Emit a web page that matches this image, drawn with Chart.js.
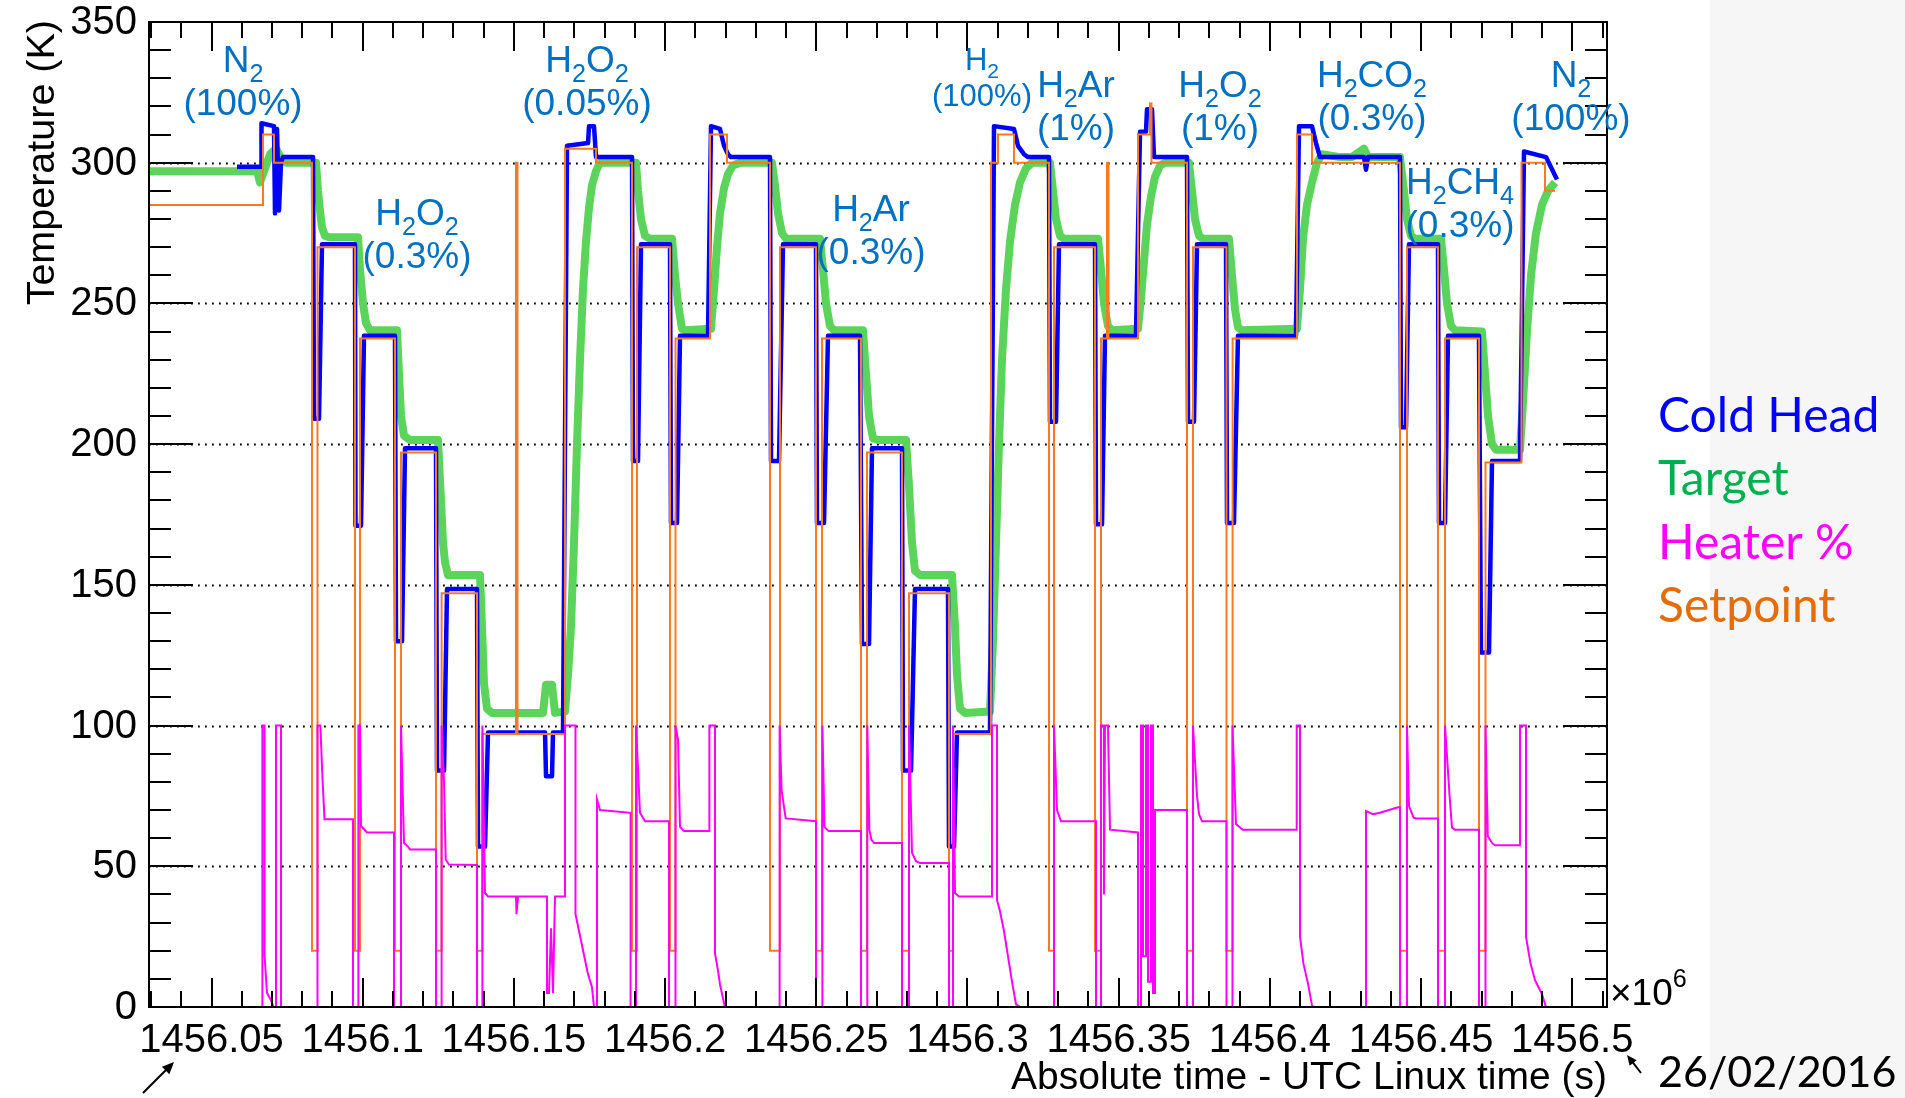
<!DOCTYPE html>
<html>
<head>
<meta charset="utf-8">
<title>Cold head / target temperature log</title>
<script src="https://cdn.jsdelivr.net/npm/chart.js@4.4.1/dist/chart.umd.min.js"></script>
<style>
  html, body { margin: 0; padding: 0; background: #ffffff; overflow: hidden; }
  canvas { display: block; }
</style>
</head>
<body>
<canvas id="c" width="1905" height="1098"></canvas>
<script>
// Time is stored in seconds after T0 (UTC Linux time); the axis shows (T0 + t) / 1e6.
const T0 = 1456000000;
const X_MIN = 29330, X_MAX = 511480;

const xTickValues = [50000, 100000, 150000, 200000, 250000, 300000, 350000, 400000, 450000, 500000];
const xTickLabels = ['1456.05', '1456.1', '1456.15', '1456.2', '1456.25', '1456.3', '1456.35', '1456.4', '1456.45', '1456.5'];
const xMinorStep = 10000;
const yTickValues = [0, 50, 100, 150, 200, 250, 300, 350];
const yTickLabels = ['0', '50', '100', '150', '200', '250', '300', '350'];
const yMinorStep = 10;
const yGridValues = [50, 100, 150, 200, 250, 300];

// Controller setpoint (K), step function: value holds until the next entry
const setpointK = [
  [29330, 285], [67030, 310], [70670, 300], [83230, 20], [85050, 270], [97450, 20], [99110, 237.5],
  [110680, 20], [112670, 197], [124240, 20], [126090, 147], [137800, 20], [139580, 97], [150700, 300],
  [151190, 97], [166900, 305], [177150, 300], [189060, 20], [190710, 270], [201620, 20], [203440, 237.5],
  [214850, 310], [220470, 300], [234690, 20], [238000, 270], [249900, 20], [251890, 237.5], [264780, 20],
  [266770, 197], [278340, 20], [280660, 147], [293880, 20], [295210, 97], [307770, 300], [310090, 310],
  [315380, 300], [326950, 20], [328610, 270], [342170, 20], [344150, 237.5], [346130, 300], [346630, 237.5],
  [356380, 310], [360350, 321], [360850, 300], [372590, 20], [374570, 270], [385650, 20], [387670, 237.5],
  [408960, 310], [413920, 300], [443030, 20], [445340, 270], [455590, 20], [457910, 237.5], [469150, 20],
  [471300, 193.5], [483200, 300], [490980, 290], [494280, 290]
];

// Cold head temperature (K)
const coldHeadK = [
  [58430, 298.6], [66370, 298.6], [66530, 314], [70670, 313], [71000, 282], [71660, 312], [72320, 283],
  [72980, 300], [73640, 302], [83570, 302], [83900, 209], [85550, 209], [86540, 271], [97450, 271],
  [97620, 171], [99440, 171], [100430, 238.5], [110680, 238.5], [111010, 130], [113000, 130], [113990, 198.5],
  [124240, 198.5], [124570, 84], [126890, 84], [127880, 148.5], [137800, 148.5], [138130, 57], [140440, 57],
  [141440, 97.5], [160290, 97.5], [160620, 82], [162600, 82], [162930, 97.5], [166240, 97.5], [167560, 306],
  [174510, 307], [174840, 313], [176490, 313], [177150, 302], [189060, 302], [189390, 194], [191040, 194],
  [192030, 271], [201620, 271], [201950, 172], [203940, 172], [204930, 238.5], [214190, 238.5], [215180, 313],
  [218160, 312], [219480, 306], [220800, 303], [221790, 302], [234690, 302], [235020, 194], [237670, 194],
  [238990, 271], [249900, 271], [250230, 172], [252550, 172], [253870, 238.5], [264450, 238.5], [265110, 129],
  [267430, 129], [268420, 198.5], [278340, 198.5], [278670, 84], [281320, 84], [282640, 148.5], [293550, 148.5],
  [293880, 57], [295540, 57], [296530, 97.5], [307440, 97.5], [308770, 313], [315380, 312], [316700, 306],
  [318690, 303], [320010, 302], [326950, 302], [327280, 208], [329270, 208], [330260, 271], [342170, 271],
  [342500, 171.5], [344480, 171.5], [345470, 238.5], [355720, 238.5], [357050, 311], [359030, 311], [359360, 319],
  [361010, 319], [361680, 302], [372590, 302], [372920, 208], [374900, 208], [375900, 271], [385490, 271],
  [385820, 172], [388130, 172], [389450, 238.5], [408630, 238.5], [409630, 313], [413920, 313], [415250, 307],
  [416570, 302], [431120, 302], [431780, 297.5], [432440, 302], [443030, 302], [443360, 206], [445010, 206],
  [446000, 271], [455590, 271], [455920, 172], [457910, 172], [458900, 238.5], [469150, 238.5], [469810, 126],
  [472460, 126], [473450, 194], [482710, 194], [484030, 304], [491310, 302], [494940, 294]
];

// Target temperature (K)
const targetK = [
  [29330, 297], [65050, 297], [66040, 293], [67690, 298], [69350, 303], [71330, 305], [73310, 301], [74640, 300],
  [84560, 300], [85220, 290], [85880, 283], [86540, 277], [87530, 274], [89190, 273.5], [98450, 273.5],
  [99110, 262], [100100, 250], [101090, 243], [102410, 240.5], [111340, 240.5], [112000, 225], [112670, 210],
  [113660, 203], [115640, 201.5], [124900, 201.5], [125890, 180], [126560, 165], [127220, 158], [128210, 153.5],
  [138790, 153.5], [139450, 135], [140110, 115], [141110, 106], [142760, 104.5], [159620, 104.5], [160620, 114.5],
  [162600, 114.5], [163590, 104.5], [166900, 105], [167890, 118], [168880, 135], [169880, 165], [170870, 200],
  [171860, 230], [172850, 255], [173840, 272], [174840, 284], [175830, 292], [177150, 297], [178470, 300],
  [190380, 300], [191040, 290], [192030, 280], [193350, 274], [195010, 273], [202280, 273], [203280, 260],
  [204270, 250], [205590, 241], [206580, 240.5], [215180, 241], [216170, 255], [217160, 270], [218160, 282],
  [219480, 291], [220800, 296], [222460, 299], [224770, 300], [235350, 300], [236340, 292], [237340, 282],
  [238660, 275], [239980, 273], [251230, 273], [252220, 262], [253210, 250], [254530, 242], [255850, 240.5],
  [265440, 240.5], [266440, 225], [267430, 210], [268750, 202], [270410, 201.5], [279660, 201.5], [280660, 185],
  [281650, 165], [282640, 155], [284290, 153.5], [294880, 153.5], [295870, 135], [296530, 118], [297520, 106],
  [299180, 104.5], [307440, 105], [308430, 130], [309430, 165], [310420, 200], [311410, 230], [312730, 255],
  [314060, 272], [315710, 285], [317360, 293], [319350, 298], [321330, 300], [327280, 300], [328280, 290],
  [329270, 280], [330590, 274], [331910, 273], [343160, 273], [344150, 262], [345140, 250], [346460, 242],
  [347790, 240.5], [356380, 241], [357380, 252], [358370, 265], [359360, 278], [360680, 288], [362010, 295],
  [363660, 299], [365310, 300], [373250, 300], [374240, 290], [375230, 280], [376560, 274], [377880, 273],
  [386480, 273], [387470, 260], [388460, 248], [389450, 241.5], [390780, 240.5], [408960, 241], [409960, 255],
  [410950, 273], [412270, 285], [413920, 293], [415580, 300], [417230, 303], [423180, 302], [427150, 302],
  [431120, 305], [432440, 302], [443030, 302], [444350, 290], [445340, 280], [446660, 274], [447990, 273],
  [456580, 273], [457580, 262], [458570, 250], [459890, 242], [461210, 240.5], [470140, 240], [471130, 225],
  [472130, 210], [473450, 200], [474770, 198], [482710, 198], [483700, 215], [485020, 240], [486350, 260],
  [488000, 275], [489980, 285], [491970, 290], [494280, 293]
];

// Heater output (%)
const heaterPct = [
  [29330, 0], [66830, 0], [66830, 100], [67530, 100], [67530, 18.5], [68350, 5], [69680, 2.4], [70500, 0],
  [71330, 0], [71330, 100], [72980, 100], [72980, 0], [85050, 0], [85050, 100], [86010, 100], [86670, 82],
  [87370, 66.7], [96790, 66.7], [96790, 0], [98580, 0], [98580, 100], [99110, 100], [99440, 64.3], [101420, 62],
  [110350, 62], [110350, 0], [112670, 0], [112670, 100], [113660, 58.3], [114980, 57], [115640, 56], [124240, 56],
  [124240, 0], [126090, 0], [126090, 100], [126890, 80], [127450, 52.4], [128540, 50.6], [137800, 50.5], [137800, 0],
  [139580, 0], [139580, 100], [140440, 40.5], [141440, 39.3], [150700, 39.3], [150860, 33], [151360, 39.3],
  [160950, 39.3], [160950, 5], [161610, 5], [162270, 28], [162930, 5], [163590, 39.3], [166900, 39.3],
  [166900, 100], [170370, 100], [170370, 33], [171730, 26], [173080, 19], [174440, 12], [175830, 7], [176490, 0],
  [177480, 0], [177480, 73.8], [178470, 70], [188590, 69], [188590, 0], [190380, 0], [190380, 100], [191700, 69],
  [193350, 66], [201290, 66], [201290, 0], [203440, 0], [203440, 100], [204270, 95], [204930, 64], [206250, 62.5],
  [214650, 62.5], [214650, 100], [216500, 100], [216500, 19], [217490, 13], [218160, 8], [219640, 0.6], [220140, 0],
  [237870, 0], [237870, 100], [238530, 77], [239880, 67], [249900, 66], [249900, 0], [252020, 0], [252020, 100],
  [252710, 64], [254070, 62.5], [264780, 62.5], [264780, 0], [266870, 0], [266870, 100], [267560, 63],
  [268220, 59.5], [269080, 58.3], [278340, 58.3], [278340, 0], [280660, 0], [280660, 100], [281650, 54.8],
  [282970, 51.8], [284290, 51.2], [293880, 51.2], [293880, 0], [295210, 0], [295210, 100], [295870, 40.5],
  [297190, 39.3], [308100, 39.3], [308100, 100], [309760, 100], [309760, 38], [310750, 34], [312070, 27],
  [313400, 18], [314720, 9], [316040, 1], [317360, 0], [328610, 0], [328610, 100], [329600, 70], [330920, 66],
  [342500, 66], [342500, 0], [344150, 0], [344150, 100], [345140, 100], [345140, 40], [345470, 100], [346460, 100],
  [347130, 63], [356380, 62], [356380, 0], [357380, 0], [357380, 100], [358040, 100], [358040, 18], [359030, 18],
  [359030, 100], [359690, 100], [359690, 9], [360680, 9], [360680, 100], [361350, 100], [361350, 5], [362010, 5],
  [362010, 70], [372590, 70], [372590, 0], [374570, 0], [374570, 100], [375900, 75], [376560, 68.5], [377550, 66],
  [385650, 66], [385650, 0], [387630, 0], [387630, 100], [388790, 65], [391010, 63], [408870, 63], [408870, 100],
  [409960, 100], [409960, 25], [411090, 15.5], [412600, 8.3], [413920, 0.6], [414590, 0], [431780, 0],
  [431780, 69.6], [434100, 68.5], [436410, 69], [442360, 71], [443030, 71], [443030, 0], [445340, 0],
  [445340, 100], [446000, 71.4], [447520, 67.3], [448320, 67], [455590, 67], [455590, 0], [457910, 0],
  [457910, 100], [459390, 75.6], [460220, 63.7], [461210, 63], [469150, 63], [469150, 0], [471300, 0],
  [471300, 100], [472060, 60.7], [473450, 58.3], [474440, 57.5], [482710, 57.5], [482710, 100], [484690, 100],
  [484690, 25], [486180, 15.5], [487670, 9.5], [489880, 4.8], [491310, 0], [494280, 0]
];

// Gas mixture of each run, anchored in (time, K)
const gasLabels = [
  { t: 60420,  k: 332.3, name: 'N_2',     share: '(100%)',  size: 37 },
  { t: 117960, k: 277.9, name: 'H_2O_2',  share: '(0.3%)',  size: 37 },
  { t: 174170, k: 332.3, name: 'H_2O_2',  share: '(0.05%)', size: 37 },
  { t: 268090, k: 279.3, name: 'H_2Ar',   share: '(0.3%)',  size: 37 },
  { t: 304800, k: 333.0, name: 'H_2',     share: '(100%)',  size: 31 },
  { t: 335880, k: 323.4, name: 'H_2Ar',   share: '(1%)',    size: 37 },
  { t: 383500, k: 323.4, name: 'H_2O_2',  share: '(1%)',    size: 37 },
  { t: 433770, k: 326.9, name: 'H_2CO_2', share: '(0.3%)',  size: 37 },
  { t: 462870, k: 288.9, name: 'H_2CH_4', share: '(0.3%)',  size: 37 },
  { t: 499570, k: 326.9, name: 'N_2',     share: '(100%)',  size: 37 }
];

const seriesNames = ['Cold Head', 'Target', 'Heater %', 'Setpoint'];
const seriesColors = ['#0000ff', '#00b050', '#ff00ff', '#e46c0a'];
const runDate = '26/02/2016';

const ROOT_FONT = '"Liberation Sans", Arial, Helvetica, sans-serif';
const SLIDE_FONT = 'Lato, "Open Sans", sans-serif';
const LABEL_BLUE = '#0070c0';

const toXY = arr => arr.map(([t, v]) => ({ x: t, y: v }));

// "H_2O_2" -> H, sub 2, O, sub 2 ; "^" marks a superscript character
function parseRich(str) {
  const parts = [];
  for (let i = 0; i < str.length; i++) {
    const c = str[i];
    if ((c === '_' || c === '^') && i + 1 < str.length) {
      parts.push({ t: str[i + 1], m: c });
      i++;
    } else if (parts.length && !parts[parts.length - 1].m) {
      parts[parts.length - 1].t += c;
    } else {
      parts.push({ t: c, m: '' });
    }
  }
  return parts;
}

function drawRich(ctx, str, x, y, size, family, align) {
  const parts = parseRich(str);
  const small = size * 0.68;
  let w = 0;
  parts.forEach(p => {
    ctx.font = (p.m ? small : size) + 'px ' + family;
    p.w = ctx.measureText(p.t).width;
    w += p.w;
  });
  let cx = align === 'center' ? x - w / 2 : (align === 'right' ? x - w : x);
  ctx.textAlign = 'left';
  ctx.textBaseline = 'alphabetic';
  parts.forEach(p => {
    ctx.font = (p.m ? small : size) + 'px ' + family;
    const dy = p.m === '_' ? size * 0.27 : (p.m === '^' ? -size * 0.5 : 0);
    ctx.fillText(p.t, cx, y + dy);
    cx += p.w;
  });
  return w;
}

function arrow(ctx, x0, y0, x1, y1, head) {
  const a = Math.atan2(y1 - y0, x1 - x0);
  ctx.beginPath();
  ctx.moveTo(x0, y0);
  ctx.lineTo(x1 - Math.cos(a) * head * 0.6, y1 - Math.sin(a) * head * 0.6);
  ctx.stroke();
  ctx.beginPath();
  ctx.moveTo(x1, y1);
  ctx.lineTo(x1 - head * Math.cos(a - 0.42), y1 - head * Math.sin(a - 0.42));
  ctx.lineTo(x1 - head * Math.cos(a + 0.42), y1 - head * Math.sin(a + 0.42));
  ctx.closePath();
  ctx.fill();
}

const rootFrame = {
  id: 'rootFrame',
  beforeDraw(chart) {
    const ctx = chart.ctx;
    ctx.save();
    ctx.fillStyle = '#ffffff';
    ctx.fillRect(0, 0, chart.width, chart.height);
    ctx.fillStyle = '#f6f6f6';
    ctx.fillRect(1710, 0, chart.width - 1710, chart.height);
    ctx.restore();
  },
  beforeDatasetsDraw(chart) {
    const ctx = chart.ctx, a = chart.chartArea, ys = chart.scales.y;
    ctx.save();
    ctx.strokeStyle = '#000000';
    ctx.lineWidth = 1.8;
    ctx.setLineDash([1.8, 5.2]);
    yGridValues.forEach(v => {
      const py = Math.round(ys.getPixelForValue(v)) + 0.5;
      ctx.beginPath();
      ctx.moveTo(a.left, py);
      ctx.lineTo(a.right, py);
      ctx.stroke();
    });
    ctx.restore();
  },
  afterDatasetsDraw(chart) {
    const ctx = chart.ctx, a = chart.chartArea, xs = chart.scales.x, ys = chart.scales.y;
    ctx.save();
    ctx.strokeStyle = '#000000';
    ctx.fillStyle = '#000000';
    ctx.lineWidth = 2;
    ctx.setLineDash([]);

    // frame
    ctx.strokeRect(a.left, a.top, a.right - a.left, a.bottom - a.top);

    // x ticks, pointing into the frame on both edges
    for (let v = Math.ceil(X_MIN / xMinorStep) * xMinorStep; v <= X_MAX; v += xMinorStep) {
      const px = Math.round(xs.getPixelForValue(v));
      const len = xTickValues.includes(v) ? 29 : 16;
      ctx.beginPath();
      ctx.moveTo(px, a.bottom); ctx.lineTo(px, a.bottom - len);
      ctx.moveTo(px, a.top); ctx.lineTo(px, a.top + len);
      ctx.stroke();
    }
    // y ticks on both edges
    for (let v = 0; v <= 350; v += yMinorStep) {
      const py = Math.round(ys.getPixelForValue(v));
      const len = yTickValues.includes(v) ? 44 : 22;
      ctx.beginPath();
      ctx.moveTo(a.left, py); ctx.lineTo(a.left + len, py);
      ctx.moveTo(a.right, py); ctx.lineTo(a.right - len, py);
      ctx.stroke();
    }

    // tick labels
    ctx.font = '40px ' + ROOT_FONT;
    ctx.textAlign = 'center';
    ctx.textBaseline = 'alphabetic';
    xTickValues.forEach((v, i) => {
      ctx.fillText(xTickLabels[i], xs.getPixelForValue(v), a.bottom + 45);
    });
    ctx.textAlign = 'right';
    ctx.textBaseline = 'middle';
    yTickValues.forEach((v, i) => {
      ctx.fillText(yTickLabels[i], a.left - 12, ys.getPixelForValue(v) + 1);
    });

    // axis titles
    ctx.textBaseline = 'alphabetic';
    ctx.textAlign = 'right';
    ctx.font = '39px ' + ROOT_FONT;
    ctx.fillText('Absolute time - UTC Linux time (s)', a.right, a.bottom + 82);
    ctx.save();
    ctx.translate(54, a.top - 2);
    ctx.rotate(-Math.PI / 2);
    ctx.font = '39.5px ' + ROOT_FONT;
    ctx.textAlign = 'right';
    ctx.fillText('Temperature (K)', 0, 0);
    ctx.restore();

    // axis exponent
    drawRich(ctx, '\u00d710^6', a.right + 3, a.bottom - 2, 37, ROOT_FONT, 'left');

    // gas labels
    ctx.fillStyle = LABEL_BLUE;
    gasLabels.forEach(g => {
      const px = xs.getPixelForValue(g.t), py = ys.getPixelForValue(g.k);
      drawRich(ctx, g.name, px, py, g.size, ROOT_FONT, 'center');
      ctx.font = g.size + 'px ' + ROOT_FONT;
      ctx.textAlign = 'center';
      ctx.fillText(g.share, px, py + g.size * 1.17);
    });

    // series key
    ctx.textAlign = 'left';
    ctx.textBaseline = 'alphabetic';
    ctx.font = '48px ' + SLIDE_FONT;
    seriesNames.forEach((n, i) => {
      ctx.fillStyle = seriesColors[i];
      ctx.fillText(n, 1658, 432 + i * 63.3);
    });

    // date and pointers
    ctx.fillStyle = '#000000';
    ctx.font = '43px ' + SLIDE_FONT;
    ctx.fillText(runDate, 1658, 1087);
    ctx.lineWidth = 2;
    arrow(ctx, 143, 1093, 174, 1062, 13);
    arrow(ctx, 1641, 1073, 1627, 1055, 11);
    ctx.restore();
  }
};

const chart = new Chart(document.getElementById('c'), {
  type: 'line',
  data: {
    datasets: [
      { label: 'Heater %', data: toXY(heaterPct), borderColor: '#ff00ff', borderWidth: 2, borderJoinStyle: 'miter' },
      { label: 'Setpoint', data: toXY(setpointK), borderColor: '#fb7a21', borderWidth: 2, stepped: true, borderJoinStyle: 'miter' },
      { label: 'Cold Head', data: toXY(coldHeadK), borderColor: '#0000ff', borderWidth: 4.5, borderJoinStyle: 'round' },
      { label: 'Target', data: toXY(targetK), borderColor: '#5cd35a', borderWidth: 8, borderJoinStyle: 'round' }
    ]
  },
  options: {
    responsive: false,
    animation: false,
    devicePixelRatio: 1,
    events: [],
    elements: {
      point: { radius: 0, hoverRadius: 0 },
      line: { tension: 0, fill: false, borderCapStyle: 'butt' }
    },
    layout: { padding: { left: 149, right: 298, top: 22, bottom: 91 } },
    scales: {
      x: { type: 'linear', min: X_MIN, max: X_MAX, display: false },
      y: { type: 'linear', min: 0, max: 350, display: false }
    },
    plugins: { legend: { display: false }, tooltip: { enabled: false } }
  },
  plugins: [rootFrame]
});

if (document.fonts && document.fonts.load) {
  Promise.all([
    document.fonts.load('40px "Liberation Sans"'),
    document.fonts.load('48px Lato')
  ]).then(() => chart.draw()).catch(() => {});
}
</script>
</body>
</html>
